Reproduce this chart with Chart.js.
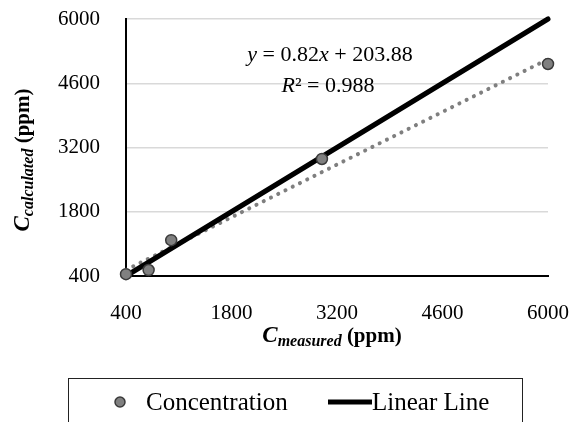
<!DOCTYPE html>
<html>
<head>
<meta charset="utf-8">
<script src="https://cdn.jsdelivr.net/npm/chart.js@4.4.1/dist/chart.umd.min.js"></script>
<style>
  html, body { margin: 0; padding: 0; background: #fff; }
  #wrap { width: 572px; height: 422px; }
</style>
</head>
<body>
<div id="wrap"><canvas id="chart" width="572" height="422"></canvas></div>
<script>
// Data
const measured = [400, 700, 1000, 3000, 6000];
const calculated = [440, 530, 1180, 2950, 5020];
const linearX = [400, 6000];
const linearY = [400, 6000];
const trendX = [400, 6000];
const trendY = [532, 5124];
const tickValues = [400, 1800, 3200, 4600, 6000];

const SERIF = "'Liberation Serif', 'Times New Roman', serif";

function toPoints(xs, ys) {
  return xs.map((x, i) => ({ x: x, y: ys[i] }));
}

// draws a run of text pieces with their own fonts and baseline shifts
function drawRich(ctx, parts, cx, baseY, rotate) {
  ctx.save();
  ctx.translate(cx, baseY);
  if (rotate) ctx.rotate(-Math.PI / 2);
  ctx.textBaseline = 'alphabetic';
  ctx.textAlign = 'left';
  let total = 0;
  parts.forEach(p => { ctx.font = p.font; total += ctx.measureText(p.t).width; });
  let x = -total / 2;
  parts.forEach(p => {
    ctx.font = p.font;
    ctx.fillStyle = '#000';
    ctx.fillText(p.t, x, p.dy || 0);
    x += ctx.measureText(p.t).width;
  });
  ctx.restore();
}

const extras = {
  id: 'extras',
  afterDraw(chart) {
    const ctx = chart.ctx;

    // trendline equation
    drawRich(ctx, [
      { t: 'y', font: 'italic 22px ' + SERIF },
      { t: ' = 0.82', font: '22px ' + SERIF },
      { t: 'x', font: 'italic 22px ' + SERIF },
      { t: ' + 203.88', font: '22px ' + SERIF }
    ], 330, 61);
    drawRich(ctx, [
      { t: 'R', font: 'italic 22px ' + SERIF },
      { t: '² = 0.988', font: '22px ' + SERIF }
    ], 328, 92);

    // axis titles
    drawRich(ctx, [
      { t: 'C', font: 'italic bold 23px ' + SERIF },
      { t: 'measured', font: 'italic bold 16px ' + SERIF, dy: 4 },
      { t: ' (ppm)', font: 'bold 21px ' + SERIF }
    ], 332, 342);
    drawRich(ctx, [
      { t: 'C', font: 'italic bold 23px ' + SERIF },
      { t: 'calculated', font: 'italic bold 16px ' + SERIF, dy: 4 },
      { t: ' (ppm)', font: 'bold 21px ' + SERIF }
    ], 29, 160, true);

    // legend
    ctx.save();
    ctx.strokeStyle = '#222';
    ctx.lineWidth = 1;
    ctx.strokeRect(68.5, 378.5, 454, 60);
    const pt = chart.data.datasets[0];
    ctx.beginPath();
    ctx.arc(120, 402, 5, 0, Math.PI * 2);
    ctx.fillStyle = pt.backgroundColor;
    ctx.fill();
    ctx.lineWidth = 1.5;
    ctx.strokeStyle = pt.borderColor;
    ctx.stroke();
    ctx.beginPath();
    ctx.moveTo(328, 402);
    ctx.lineTo(372, 402);
    ctx.lineWidth = 5;
    ctx.strokeStyle = '#000';
    ctx.stroke();
    ctx.font = '25px ' + SERIF;
    ctx.fillStyle = '#000';
    ctx.textBaseline = 'alphabetic';
    ctx.fillText(pt.label, 146, 410);
    ctx.fillText(chart.data.datasets[1].label, 372, 410);
    ctx.restore();
  }
};

const ctx = document.getElementById('chart').getContext('2d');
const chart = new Chart(ctx, {
  type: 'scatter',
  data: {
    datasets: [
      {
        label: 'Concentration',
        data: toPoints(measured, calculated),
        backgroundColor: '#808080',
        borderColor: '#3a3a3a',
        borderWidth: 1.5,
        pointRadius: 5.5,
        order: 1,
        clip: false
      },
      {
        label: 'Linear Line',
        data: toPoints(linearX, linearY),
        showLine: true,
        borderColor: '#000',
        borderWidth: 5,
        pointRadius: 0,
        borderCapStyle: 'round',
        order: 2,
        clip: false
      },
      {
        label: 'Trend',
        data: toPoints(trendX, trendY),
        showLine: true,
        borderColor: '#7f7f7f',
        borderWidth: 4,
        borderDash: [0.1, 8],
        borderCapStyle: 'round',
        pointRadius: 0,
        order: 3,
        clip: false
      }
    ]
  },
  options: {
    responsive: false,
    animation: false,
    layout: { padding: 0 },
    plugins: { legend: { display: false }, tooltip: { enabled: false } },
    scales: {
      x: {
        type: 'linear',
        min: 400,
        max: 6000,
        afterBuildTicks: s => { s.ticks = tickValues.map(v => ({ value: v })); },
        afterFit: s => { s.height = 146; s.paddingLeft = 0; s.paddingRight = 24; },
        grid: { display: false },
        border: { color: '#000', width: 2 },
        ticks: { color: '#000', padding: 17, maxRotation: 0, callback: v => String(v), font: { family: SERIF, size: 21 } }
      },
      y: {
        type: 'linear',
        min: 400,
        max: 6000,
        afterBuildTicks: s => { s.ticks = tickValues.map(v => ({ value: v })); },
        afterFit: s => { s.width = 126; s.paddingTop = 19; s.paddingBottom = 0; },
        grid: { color: '#d9d9d9', lineWidth: 1.5, drawTicks: false },
        border: { color: '#000', width: 2 },
        ticks: { color: '#000', padding: 26, callback: v => String(v), font: { family: SERIF, size: 21 } }
      }
    }
  },
  plugins: [extras]
});
</script>
</body>
</html>
